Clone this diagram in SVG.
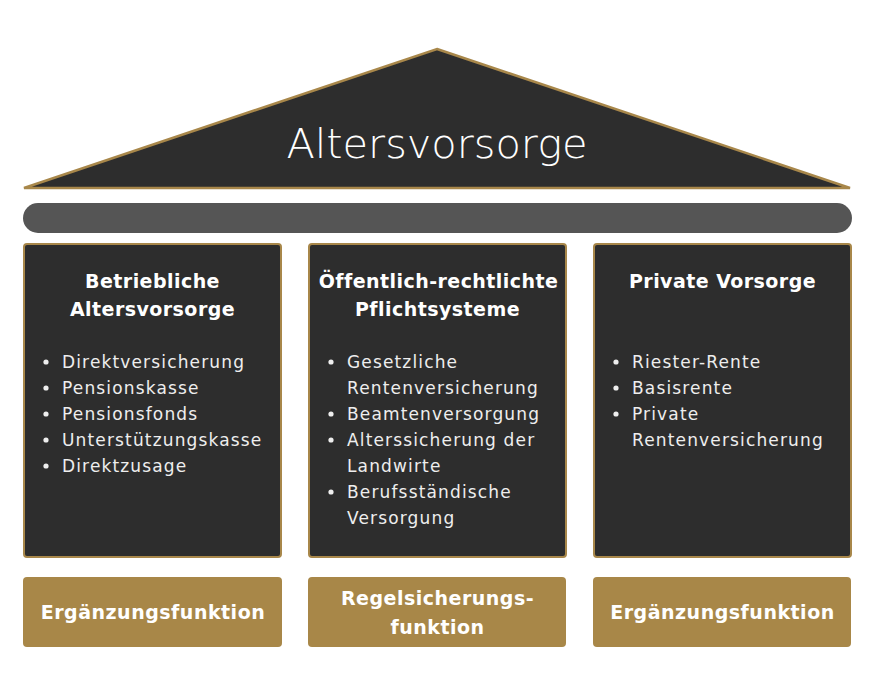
<svg xmlns="http://www.w3.org/2000/svg" width="875" height="700" viewBox="0 0 875 700">
<style>
.pillar{fill:#2d2d2d;stroke:#a8874a;stroke-width:2}
.base{fill:#a88748}
.ttl{font-family:"DejaVu Sans",sans-serif;font-weight:bold;font-size:19px;fill:#ffffff;text-anchor:middle;letter-spacing:0.45px}
.itm{font-family:"DejaVu Sans",sans-serif;font-size:17px;fill:#eeeeee;letter-spacing:1.15px}
.dot{fill:#eeeeee}
.fn{font-family:"DejaVu Sans",sans-serif;font-weight:bold;font-size:19px;fill:#ffffff;text-anchor:middle;letter-spacing:0.5px}
</style>
<rect width="875" height="700" fill="#ffffff"/>
<g id="roof">
<polygon points="437,49 850,188 24,188" fill="#2d2d2d" stroke="#a8874a" stroke-width="2.5" stroke-linejoin="miter"/>
<text x="437" y="158" font-family="DejaVu Sans, sans-serif" font-weight="200" font-size="41.5" fill="#ffffff" text-anchor="middle">Altersvorsorge</text>
</g>
<g id="beam">
<rect x="23" y="203" width="829" height="30" rx="15" fill="#555555"/>
</g>
<g id="pillar1">
<rect class="pillar" x="24" y="244" width="257" height="313" rx="3"/>
<text class="ttl" x="152.5" y="288">Betriebliche</text>
<text class="ttl" x="152.5" y="316">Altersvorsorge</text>
<circle class="dot" cx="46" cy="362" r="2.6"/>
<circle class="dot" cx="46" cy="388" r="2.6"/>
<circle class="dot" cx="46" cy="414" r="2.6"/>
<circle class="dot" cx="46" cy="440" r="2.6"/>
<circle class="dot" cx="46" cy="466" r="2.6"/>
<text class="itm" x="62" y="368">Direktversicherung</text>
<text class="itm" x="62" y="394">Pensionskasse</text>
<text class="itm" x="62" y="420">Pensionsfonds</text>
<text class="itm" x="62" y="446">Unterstützungskasse</text>
<text class="itm" x="62" y="472">Direktzusage</text>
</g>
<g id="pillar2">
<rect class="pillar" x="309" y="244" width="257" height="313" rx="3"/>
<text class="ttl" x="438.5" y="288">Öffentlich-rechtlichte</text>
<text class="ttl" x="437.5" y="316">Pflichtsysteme</text>
<circle class="dot" cx="331" cy="362" r="2.6"/>
<circle class="dot" cx="331" cy="414" r="2.6"/>
<circle class="dot" cx="331" cy="440" r="2.6"/>
<circle class="dot" cx="331" cy="492" r="2.6"/>
<text class="itm" x="347" y="368">Gesetzliche</text>
<text class="itm" x="347" y="394">Rentenversicherung</text>
<text class="itm" x="347" y="420">Beamtenversorgung</text>
<text class="itm" x="347" y="446">Alterssicherung der</text>
<text class="itm" x="347" y="472">Landwirte</text>
<text class="itm" x="347" y="498">Berufsständische</text>
<text class="itm" x="347" y="524">Versorgung</text>
</g>
<g id="pillar3">
<rect class="pillar" x="594" y="244" width="257" height="313" rx="3"/>
<text class="ttl" x="722.5" y="288">Private Vorsorge</text>
<circle class="dot" cx="616" cy="362" r="2.6"/>
<circle class="dot" cx="616" cy="388" r="2.6"/>
<circle class="dot" cx="616" cy="414" r="2.6"/>
<text class="itm" x="632" y="368">Riester-Rente</text>
<text class="itm" x="632" y="394">Basisrente</text>
<text class="itm" x="632" y="420">Private</text>
<text class="itm" x="632" y="446">Rentenversicherung</text>
</g>
<g id="base1">
<rect class="base" x="23" y="577" width="259" height="70" rx="4"/>
<text class="fn" x="153" y="619">Ergänzungsfunktion</text>
</g>
<g id="base2">
<rect class="base" x="308" y="577" width="258" height="70" rx="4"/>
<text class="fn" x="437.5" y="605">Regelsicherungs-</text>
<text class="fn" x="437.5" y="634">funktion</text>
</g>
<g id="base3">
<rect class="base" x="593" y="577" width="258" height="70" rx="4"/>
<text class="fn" x="722.5" y="619">Ergänzungsfunktion</text>
</g>
<g id="connectors"></g>
</svg>
